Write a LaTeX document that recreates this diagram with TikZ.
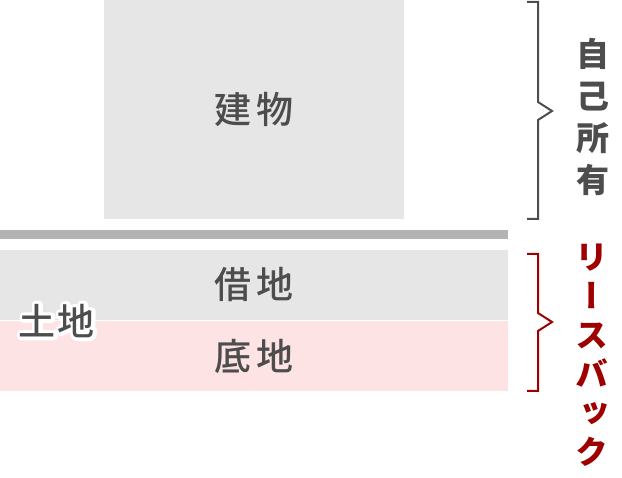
\documentclass[tikz,border=0pt]{standalone}
\usepackage{fontspec}
\usepackage{tikz}
\usetikzlibrary{positioning}
\newfontfamily\cjk{Noto Sans CJK JP}[UprightFont=* Medium]
\newfontfamily\cjkvert{Noto Sans CJK JP}[RawFeature=+vert]
\newcommand{\outlined}[1]{\special{pdf:literal direct 1 Tr 1 1 1 RG 7 w 1 j}#1\special{pdf:literal direct 0 Tr}}
\definecolor{palText}{HTML}{4D4D4D}
\definecolor{palGray}{HTML}{E6E6E6}
\definecolor{palBar}{HTML}{B3B3B3}
\definecolor{palPink}{HTML}{FDE3E4}
\definecolor{palRed}{HTML}{9E0000}

\begin{document}
\begin{tikzpicture}[
  x=1pt, y=-1pt,
  box/.style={inner sep=0pt, outer sep=0pt, text=palText, font=\cjk\fontsize{37}{40}\selectfont},
  vlabel/.style={inner sep=0pt, align=center, font=\cjkvert\bfseries\fontsize{33}{42}\selectfont},
  brace/.style={line width=2pt, line join=miter},
]
\useasboundingbox (0,0) rectangle (622,478);
% building and land strips
\node[box, fill=palGray, minimum width=300pt, minimum height=219pt] (bldg) at (254,109.5) {建\hspace{6pt}物};
\node[box, fill=palBar, minimum width=508pt, minimum height=9pt] (bar) at (254,234.5) {};
\node[box, fill=palGray, minimum width=508pt, minimum height=70pt, below=11pt of bar] (lease) {借\hspace{6pt}地};
\node[box, fill=palPink, minimum width=508pt, minimum height=70pt, below=1pt of lease] (sokochi) {底\hspace{6pt}地};

% land label with white halo
\node[box, text=white] (landhalo) at (57,321) {\outlined{土\hspace{2pt}地}};
\node[box] (land) at (landhalo) {土\hspace{2pt}地};

% braces and side labels
\draw[brace, palText] (527,2) -- (538,2) -- (538,102) -- (552,111) -- (538,120) -- (538,219) -- (527,219);
\draw[brace, palRed] (527,254) -- (538,254) -- (538,313) -- (552,322) -- (538,331) -- (538,391) -- (527,391);
\node[vlabel, text=palText] (own) at (593,117) {自\\己\\所\\有};
\node[vlabel, text=palRed, font=\cjkvert\bfseries\fontsize{33}{39}\selectfont] (leaseback) at (592,355) {リ\\ー\\ス\\バ\\ッ\\ク};
\end{tikzpicture}
\end{document}
